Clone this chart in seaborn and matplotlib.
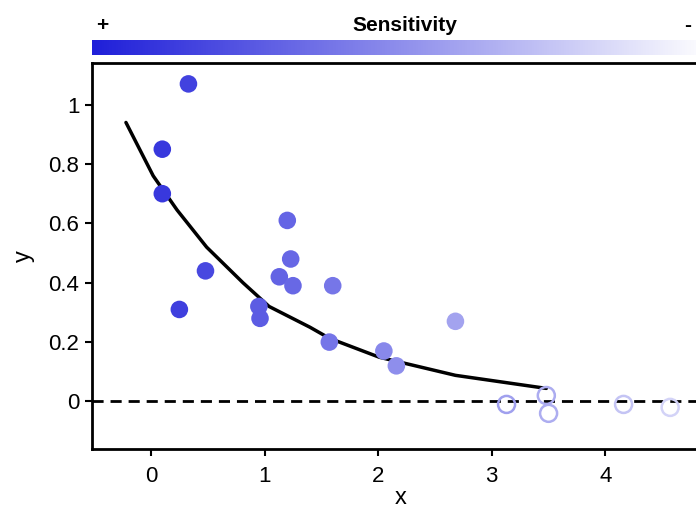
import numpy as np
import matplotlib
matplotlib.use("Agg")
import matplotlib.pyplot as plt
import seaborn as sns
from matplotlib.colors import LinearSegmentedColormap, Normalize

# filled points (sensitive)
x_filled = [0.33, 0.10, 0.10, 0.48, 0.25, 1.20, 1.23, 1.13, 1.25, 1.60,
            0.95, 0.96, 1.57, 2.05, 2.16, 2.68]
y_filled = [1.07, 0.85, 0.70, 0.44, 0.31, 0.61, 0.48, 0.42, 0.39, 0.39,
            0.32, 0.28, 0.20, 0.17, 0.12, 0.27]

# open points (not sensitive)
x_open = [3.13, 3.48, 3.50, 4.16, 4.57]
y_open = [-0.01, 0.02, -0.04, -0.01, -0.02]

# fitted curve
x_fit = [-0.22, 0.02, 0.23, 0.49, 0.81, 1.04, 1.40, 1.57, 2.01, 2.68, 3.48]
y_fit = [0.94, 0.76, 0.645, 0.52, 0.40, 0.32, 0.25, 0.213, 0.149, 0.088, 0.044]

yticks = [0, 0.2, 0.4, 0.6, 0.8, 1]
ytick_labels = ["0", "0.2", "0.4", "0.6", "0.8", "1"]
xticks = [0, 1, 2, 3, 4]

sns.set_style("white")
plt.rcParams['font.family'] = ['Liberation Sans', 'DejaVu Sans']
plt.rcParams['text.color'] = 'black'
plt.rcParams['axes.labelcolor'] = 'black'
plt.rcParams['xtick.color'] = 'black'
plt.rcParams['ytick.color'] = 'black'

xmin, xmax = -0.52, 4.92
cmap = LinearSegmentedColormap.from_list("sens", ["#1f1fd9", "#ffffff"])
norm = Normalize(vmin=xmin, vmax=xmax)
edge_cmap = LinearSegmentedColormap.from_list("sens_edge", ["#1f1fd9", "#f4f4fc"])

fig = plt.figure(figsize=(6.96, 5.09), dpi=100)
ax = fig.add_axes([0.132, 0.118, 0.888, 0.758])

sns.lineplot(x=x_fit, y=y_fit, color="black", linewidth=2.5, ax=ax, sort=False)
ax.axhline(0, color="black", linestyle=(0, (4, 2.5)), linewidth=2, zorder=1)

sns.scatterplot(x=x_filled, y=y_filled, hue=x_filled, palette=cmap, hue_norm=norm,
                s=160, edgecolor="none", legend=False, ax=ax, zorder=3)
open_colors = [edge_cmap(norm(v) * 0.9) for v in x_open]
ax.scatter(x_open, y_open, s=150, facecolors="none", edgecolors=open_colors,
           linewidths=1.8, zorder=3)

ax.set_xlim(xmin, xmax)
ax.set_ylim(-0.16, 1.14)
ax.set_xticks(xticks)
ax.set_yticks(yticks)
ax.set_yticklabels(ytick_labels)
ax.tick_params(axis="both", direction="out", length=5, width=1.5, labelsize=16,
               bottom=True, left=True, pad=4)
ax.tick_params(axis="x", pad=7)
ax.set_xlabel("x", fontsize=17, labelpad=0)
ax.set_ylabel("y", fontsize=17, labelpad=10)
for sp in ax.spines.values():
    sp.set_linewidth(2)
    sp.set_color("black")

# sensitivity colour bar
cax = fig.add_axes([0.132, 0.892, 0.888, 0.030])
gradient = np.linspace(0, 1, 512).reshape(1, -1)
cax.imshow(gradient, aspect="auto", cmap=cmap)
cax.set_axis_off()
fig.text(0.147, 0.950, "+", fontsize=15, fontweight="bold", ha="center", va="center")
fig.text(0.582, 0.950, "Sensitivity", fontsize=15, fontweight="bold", ha="center", va="center")
fig.text(0.988, 0.950, "-", fontsize=15, fontweight="bold", ha="center", va="center")

fig.savefig("out.png", dpi=100)
